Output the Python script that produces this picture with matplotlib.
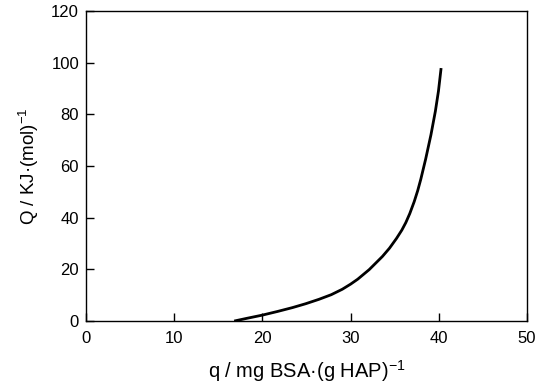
import matplotlib
matplotlib.use("Agg")
import matplotlib.pyplot as plt

# datos
q = [16.8, 18.3, 20.0, 21.7, 23.4, 24.9, 26.4, 27.8, 29.05, 30.0, 30.8, 32.1, 33.6,
     34.4, 35.2, 35.8, 36.25, 36.7, 37.2, 37.6, 37.95, 38.5, 39.1, 39.6, 39.95, 40.25]
Q = [0.0, 1.1, 2.3, 3.7, 5.2, 6.7, 8.4, 10.2, 12.3, 14.3, 16.2, 19.9, 25.0,
     28.2, 32.0, 35.2, 38.1, 41.6, 46.2, 50.5, 54.9, 62.7, 72.1, 81.2, 89.0, 97.9]

x_ticks = [0, 10, 20, 30, 40, 50]
y_ticks = [0, 20, 40, 60, 80, 100, 120]

plt.rcParams['font.family'] = ['Liberation Sans', 'DejaVu Sans']
plt.rcParams['mathtext.fontset'] = 'custom'
plt.rcParams['mathtext.rm'] = 'Liberation Sans'
plt.rcParams['mathtext.it'] = 'Liberation Sans'

fig = plt.figure(figsize=(5.44, 3.92), dpi=100)
ax = fig.add_axes([0.158, 0.181, 0.811, 0.791])

ax.plot(q, Q, color='black', lw=2.0, solid_capstyle='butt', solid_joinstyle='round')

ax.set_xlim(0, 50)
ax.set_ylim(0, 120)
ax.set_xticks(x_ticks)
ax.set_yticks(y_ticks)
ax.tick_params(axis='both', direction='in', length=6, width=1, labelsize=12)
ax.tick_params(axis='x', pad=7)
ax.tick_params(axis='y', pad=5)
for s in ax.spines.values():
    s.set_linewidth(1)

ax.set_xlabel('q / mg BSA·(g HAP)$^{-1}$', fontsize=14.5, labelpad=9)
ax.set_ylabel('Q / KJ·(mol)$^{-1}$', fontsize=13.5, labelpad=7)

fig.savefig('out.png', dpi=100)
